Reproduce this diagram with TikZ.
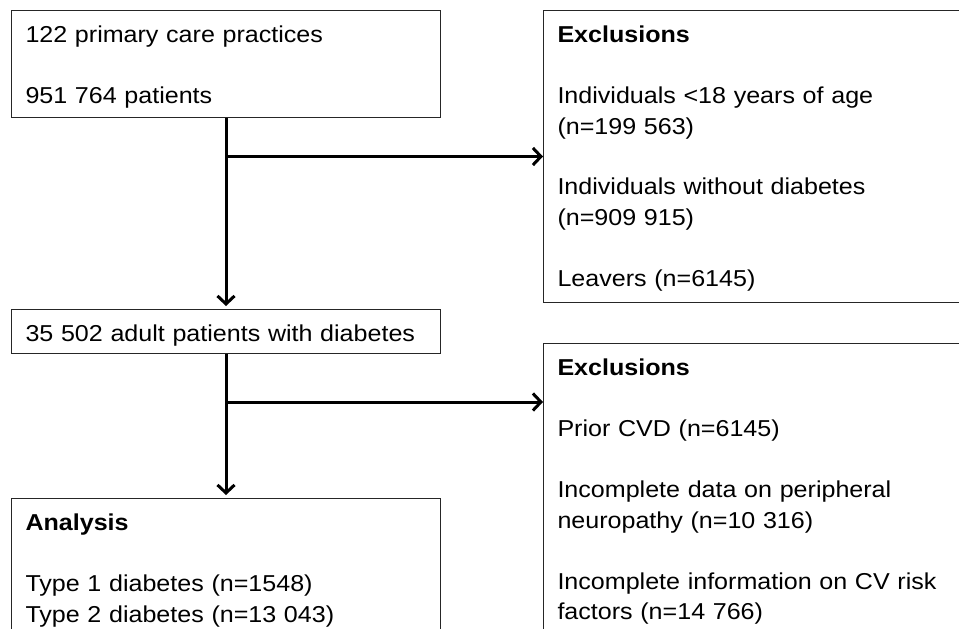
\documentclass[tikz,border=0pt]{standalone}
\usepackage{fontspec}
\setmainfont{Liberation Sans}[FakeStretch=1.09]
\usetikzlibrary{arrows.meta}

\begin{document}
\begin{tikzpicture}[
        x=1pt, y=-1pt,
        box/.style={rectangle, draw=black!85, line width=1pt, anchor=north west, text width=#1, align=left,
            inner xsep=14pt, inner ysep=0pt, text height=32pt, font=\fontsize{23}{30.5}\selectfont},
        box/.default=401pt,
        arrow/.style={line width=3pt, -{Straight Barb[length=8pt, width=17pt]}}
        ]

        \useasboundingbox (0,0) rectangle (959,629);
        \clip (0,0) rectangle (959,629);

        \node[box, text depth=75pt] (start) at (11,10) {122 primary care practices\\[30.5pt]951 764 patients};
        \node[box=440pt, text depth=260pt] (excl1) at (543,10) {\textbf{Exclusions}\\[30.5pt]Individuals <18 years of age\\(n=199 563)\\[30.5pt]Individuals without diabetes\\(n=909 915)\\[30.5pt]Leavers (n=6145)};
        \node[box, text depth=12pt] (cohort) at (11,309) {35 502 adult patients with diabetes};
        \node[box=440pt, text depth=300pt] (excl2) at (543,343) {\textbf{Exclusions}\\[30.5pt]Prior CVD (n=6145)\\[30.5pt]Incomplete data on peripheral\\neuropathy (n=10 316)\\[30.5pt]Incomplete information on CV risk\\factors (n=14 766)};
        \node[box, text depth=150pt] (analysis) at (11,498) {\textbf{Analysis}\\[30.5pt]Type 1 diabetes (n=1548)\\Type 2 diabetes (n=13 043)};

        \coordinate (split1) at (start.south |- excl1.west);
        \coordinate (split2) at (cohort.south |- 0,402);

        \draw[arrow, shorten >=3pt] (start.south) -- (cohort.north);
        \draw[arrow] (split1) -- (excl1.west);
        \draw[arrow, shorten >=3pt] (cohort.south) -- (analysis.north);
        \draw[arrow] (split2) -- (split2 -| excl2.west);

    \end{tikzpicture}
\end{document}
